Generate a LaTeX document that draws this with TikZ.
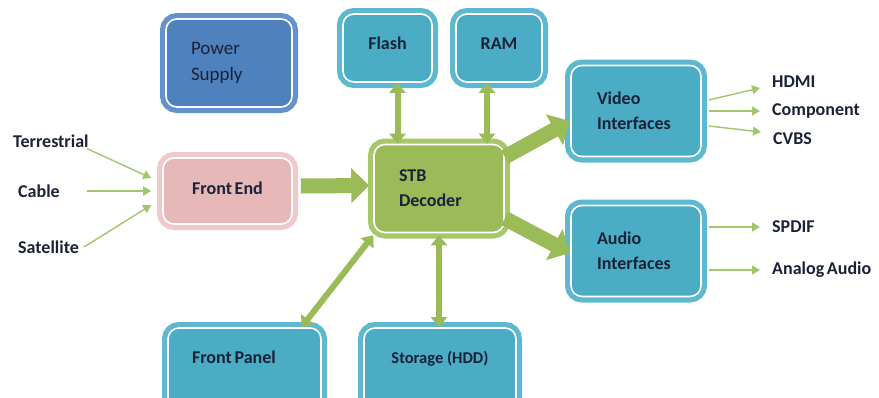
\documentclass[tikz,border=0pt]{standalone}
\usepackage{fontspec}
\setmainfont{Carlito}
\usetikzlibrary{arrows.meta,positioning}
\definecolor{powerfill}{HTML}{4F81BD}
\definecolor{powerline}{HTML}{6393CE}
\definecolor{tealfill}{HTML}{4BACC6}
\definecolor{tealline}{HTML}{5DB8D0}
\definecolor{pinkfill}{HTML}{E6B9B8}
\definecolor{pinkline}{HTML}{F0CACA}
\definecolor{stbfill}{HTML}{9BBB59}
\definecolor{stbline}{HTML}{A8C76A}
\definecolor{arrowgreen}{HTML}{9BBB59}
\definecolor{feedgreen}{HTML}{A3C56B}
\definecolor{ink}{HTML}{1B2238}
\tikzset{
  blk/.style={rounded corners=11pt, fill=#1fill, draw=white, line width=1.6pt,
              preaction={draw=#1line, line width=12pt},
              font=\fontsize{18}{25}\selectfont\bfseries, text=ink, inner sep=0pt},
  lbl/.style={font=\fontsize{18}{20}\selectfont\bfseries, text=ink, inner sep=0pt, anchor=west},
  fat/.style={-{Triangle[length=18pt,width=34pt]}, line width=15pt, draw=arrowgreen},
  dbl/.style={{Triangle[length=10pt,width=16pt]}-{Triangle[length=10pt,width=16pt]},
              line width=6pt, draw=arrowgreen},
  feed/.style={-{Triangle[length=8pt,width=9pt]}, line width=1.4pt, draw=feedgreen}
}
\begin{document}
\begin{tikzpicture}[x=1pt,y=-1pt]
  \useasboundingbox (0,0) rectangle (879,397);
  \clip (0,0) rectangle (879,397);
  % blocks
  \node[blk=power, font=\fontsize{19}{26}\selectfont, minimum width=126pt, minimum height=88pt,
        text width=76pt, align=left] (power) at (229,63) {Power\\Supply};
  \node[blk=teal, minimum width=89pt, minimum height=68pt, text height=12pt, text depth=10pt]
        (flash) at (387.5,48) {Flash};
  \node[blk=teal, minimum width=86pt, minimum height=68pt, text height=12pt, text depth=10pt]
        (ram) at (499,48) {RAM};
  \node[blk=teal, minimum width=130pt, minimum height=91pt, text width=78pt, align=left]
        (video) at (636,111) {Video\\Interfaces};
  \node[blk=pink, minimum width=129pt, minimum height=66pt, text height=12pt, text depth=6pt]
        (fe) at (227.5,191) {Front\hspace{0.15em}End};
  \node[blk=stb, minimum width=130pt, minimum height=88pt, text width=80pt, align=left]
        (dec) at (439,188.5) {STB\\Decoder};
  \node[blk=teal, minimum width=130pt, minimum height=91pt, text width=78pt, align=left]
        (audio) at (636,251) {Audio\\Interfaces};
  \node[blk=teal, minimum width=153pt, minimum height=88pt, text width=105pt, align=left,
        text height=12pt, text depth=30pt] (panel) at (244.5,372) {Front\hspace{0.15em}Panel};
  \node[blk=teal, font=\fontsize{16.5}{18}\selectfont\bfseries, minimum width=152pt, minimum height=88pt,
        text height=11pt, text depth=28.5pt] (hdd) at (440,372) {Storage (HDD)};
  % inputs and outputs
  \node[lbl] (terr) at (13,141) {Terrestrial};
  \node[lbl] (cable) at (18,191) {Cable};
  \node[lbl] (sat) at (18,247) {Satellite};
  \node[lbl] (hdmi) at (772,82) {HDMI};
  \node[lbl] (comp) at (772,111) {Component};
  \node[lbl] (cvbs) at (773,139) {CVBS};
  \node[lbl] (spdif) at (772,227) {SPDIF};
  \node[lbl] (analog) at (772,270) {Analog\hspace{0.15em}Audio};
  % connectors
  \draw[feed] ([xshift=-2pt,yshift=-1pt]terr.south east) -- ([xshift=-11pt,yshift=13pt]fe.west);
  \draw[feed] ([xshift=27pt]cable.east) -- ([xshift=-11pt]fe.west);
  \draw[feed] ([xshift=5pt]sat.east) -- ([xshift=-11pt,yshift=-14pt]fe.west);
  \draw[fat] ([xshift=8pt,yshift=5pt]fe.east) -- ([xshift=-4pt,yshift=3pt]dec.west);
  \draw[fat] ([yshift=-2pt]dec.27) -- ([yshift=-2pt]video.187);
  \draw[fat] ([yshift=-2pt]dec.-23) -- ([yshift=-2pt]audio.west);
  \coordinate (fl) at ([xshift=10pt]flash.south);
  \coordinate (rm) at ([xshift=-12pt]ram.south);
  \draw[dbl] (fl) -- (fl |- dec.north);
  \draw[dbl] (rm) -- (rm |- dec.north);
  \draw[dbl] ([yshift=-2pt]dec.south) -- (dec.south |- hdd.north);
  \draw[dbl] ([xshift=57pt]panel.north) -- ([yshift=-2pt]dec.south west);
  \draw[feed] ([xshift=7pt,yshift=11pt]video.east) -- ([xshift=-12pt,yshift=-6pt]hdmi.west);
  \draw[feed] ([xshift=7pt,yshift=0pt]video.east) -- ([xshift=-12pt]comp.west);
  \draw[feed] ([xshift=7pt,yshift=-15pt]video.east) -- ([xshift=-12pt,yshift=7pt]cvbs.west);
  \draw[feed] ([xshift=7pt,yshift=24pt]audio.east) -- ([xshift=-12pt]spdif.west);
  \draw[feed] ([xshift=7pt,yshift=-19pt]audio.east) -- ([xshift=-12pt]analog.west);
\end{tikzpicture}
\end{document}
